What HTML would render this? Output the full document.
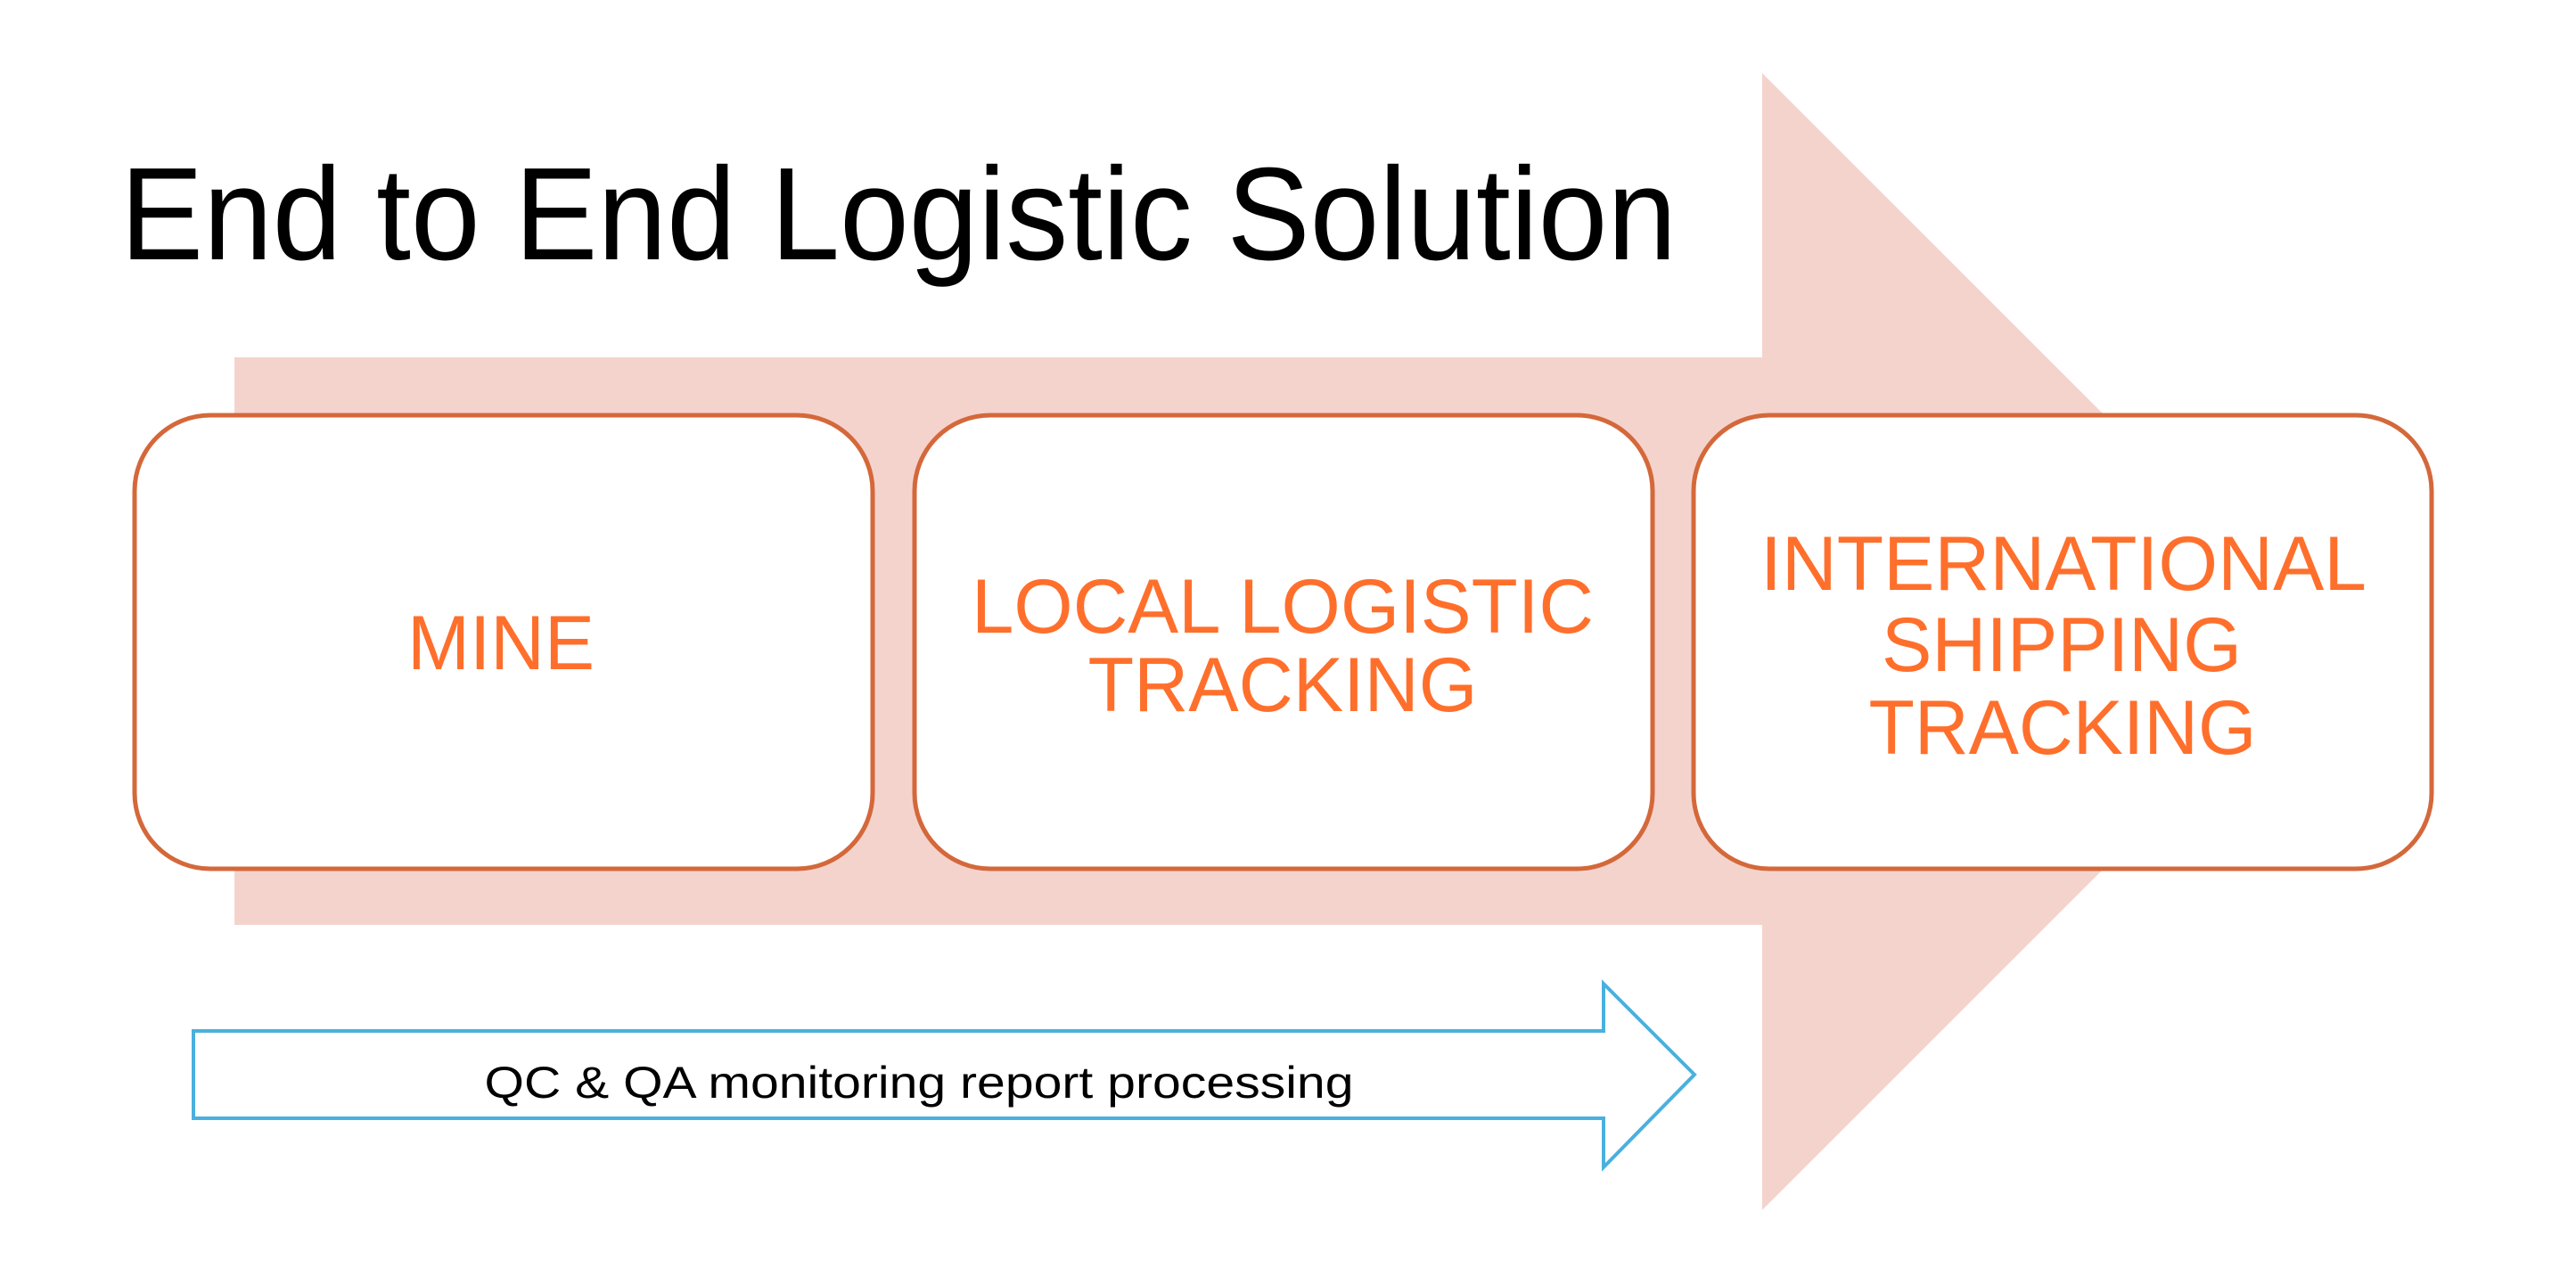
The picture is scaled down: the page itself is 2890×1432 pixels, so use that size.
<!DOCTYPE html>
<html><head><meta charset="utf-8"><style>
html,body{margin:0;padding:0;background:#fff;}
svg{display:block;}
text{font-family:"Liberation Sans",Arial,sans-serif;}
</style></head><body>
<svg width="2890" height="1432" viewBox="0 0 2890 1432" xmlns="http://www.w3.org/2000/svg">
<polygon points="263,401 1977,401 1977,82 2615,720 1977,1358 1977,1038 263,1038" fill="#F5D3CD"/>
<text x="135" y="291" font-size="148" fill="#000" textLength="1746" lengthAdjust="spacingAndGlyphs">End to End Logistic Solution</text>
<g fill="#fff" stroke="#D4683A" stroke-width="5">
<rect x="151" y="466" width="828" height="509" rx="85" ry="85"/>
<rect x="1026" y="466" width="828" height="509" rx="85" ry="85"/>
<rect x="1900" y="466" width="828" height="509" rx="85" ry="85"/>
</g>
<g fill="#FF6F2C" font-size="86" text-anchor="middle">
<text x="562" y="751" textLength="210" lengthAdjust="spacingAndGlyphs">MINE</text>
<text x="1439" y="710" textLength="698" lengthAdjust="spacingAndGlyphs">LOCAL LOGISTIC</text>
<text x="1439" y="798" textLength="437" lengthAdjust="spacingAndGlyphs">TRACKING</text>
<text x="2315" y="662" textLength="680" lengthAdjust="spacingAndGlyphs">INTERNATIONAL</text>
<text x="2313" y="753" textLength="404" lengthAdjust="spacingAndGlyphs">SHIPPING</text>
<text x="2314" y="846" textLength="435" lengthAdjust="spacingAndGlyphs">TRACKING</text>
</g>
<polygon points="217,1157 1799,1157 1799,1104 1901,1206 1799,1310 1799,1255 217,1255" fill="#fff" stroke="#4AB0DE" stroke-width="4"/>
<text x="1031" y="1232" font-size="50" fill="#000" text-anchor="middle" textLength="975" lengthAdjust="spacingAndGlyphs">QC &amp; QA monitoring report processing</text>
</svg>
</body></html>
